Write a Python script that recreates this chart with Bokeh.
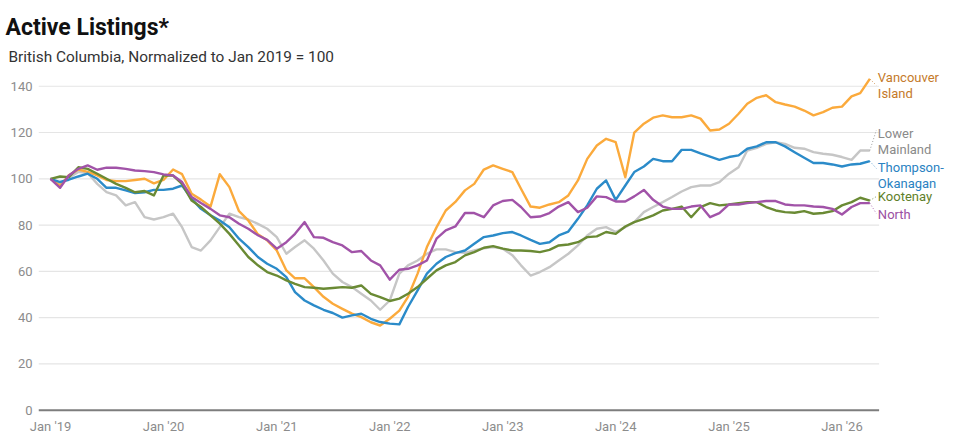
import pandas as pd
from bokeh.plotting import figure
from bokeh.models import FixedTicker, DatetimeTickFormatter, Title, Range1d, ColumnDataSource
from bokeh.core.properties import value
from bokeh.embed import file_html
from bokeh.resources import INLINE

# ---------------- data ----------------
months = pd.date_range("2019-01-01", periods=88, freq="MS")

vancouver_island = [100, 97, 101.5, 104, 103, 101.5, 99.5, 99, 99, 99.5, 100, 98,
                    99.5, 104, 102, 93.5, 91, 88, 102, 96.4, 86, 82, 76, 73.4,
                    69, 60.4, 57, 57, 53.2, 49, 46, 43.8, 41.7, 40.2, 38, 36.6,
                    39.5, 43, 49, 59, 70.5, 79, 86.3, 90, 95, 97.8, 104, 105.8,
                    104.3, 102.9, 95.7, 88, 87.5, 88.9, 89.9, 92.8, 99.3, 108.6, 114.4, 117.3,
                    115.8, 100.7, 120, 123.8, 126.4, 127.4, 126.6, 126.6, 127.4, 126, 120.9, 121.3,
                    123.8, 128.1, 132.4, 135, 136.1, 133.1, 132.1, 131.2, 129.5, 127.4, 128.8, 130.7,
                    131.2, 135.6, 137, 143.2]
lower_mainland = [100, 97.8, 100.5, 103, 102.5, 97.8, 94.2, 92.8, 88.5, 89.9, 83.4, 82.4,
                  83.4, 84.9, 79.1, 70.5, 69, 73.4, 79.1, 84.9, 83.4, 82.4, 80.5, 78.4,
                  74.8, 67.6, 70.5, 73.4, 69.8, 64.7, 59, 55.4, 53.2, 50.3, 47.4, 43.4,
                  47.4, 59, 62.6, 64.7, 67.6, 69.5, 69.5, 68.3, 68, 69, 70, 70.5,
                  69.8, 67, 62.6, 58.2, 59.7, 61.8, 64.7, 67.6, 71.2, 75.5, 78.4, 79.1,
                  77, 79.1, 81.3, 85.6, 87.8, 89.9, 92.1, 94.5, 96.4, 97.1, 97.1, 98.6,
                  102.2, 105, 112.2, 113.4, 115.1, 115.8, 115.1, 113.4, 113, 111.5, 110.8, 110.4,
                  109.4, 108.2, 112.2, 112.2]
thompson_okanagan = [100, 98.6, 99.6, 101, 102.2, 100, 96.1, 96.1, 95, 93.8, 94.2, 95.2,
                     95.2, 95.7, 97.1, 91.4, 87, 84.2, 82, 79.1, 74.1, 70.5, 66.2, 63.3,
                     61.1, 57.5, 51, 47.4, 45.3, 43.4, 42, 40, 41, 41.7, 39.5, 38.1,
                     37.4, 37.1, 44.6, 51.8, 59, 63.3, 66.2, 67.9, 69, 71.9, 74.8, 75.5,
                     76.5, 77, 75.5, 73.6, 71.9, 72.6, 75.5, 77.2, 82.7, 88.5, 95.7, 99.3,
                     90.9, 97.1, 102.9, 105.3, 108.6, 107.6, 107.6, 112.5, 112.5, 111, 109.6, 108.2,
                     109.4, 110.1, 113, 114, 115.8, 115.8, 114, 111.5, 109.1, 106.8, 106.8, 106.2,
                     105.3, 106.2, 106.5, 107.6]
kootenay = [100, 101, 100.7, 105, 104.3, 102.2, 100, 97.8, 96.1, 94.2, 94.7, 92.8,
            101.4, 101.4, 97.8, 90.6, 87.8, 84.2, 80.6, 76.2, 71.2, 66.2, 62.6, 59.7,
            58.2, 56.1, 54.6, 53.2, 52.9, 52.5, 52.8, 53.2, 52.9, 53.9, 50.3, 48.9,
            47.2, 48.2, 50.3, 53.2, 56.8, 60.4, 62.6, 64, 66.9, 68.3, 70.2, 70.9,
            69.8, 69, 69, 68.8, 68.3, 69.3, 71.2, 71.6, 72.6, 74.8, 75.1, 77,
            76.2, 79.4, 81.3, 82.7, 84.2, 86.3, 87, 88, 83.4, 87.8, 89.5, 88.5,
            88.9, 89.5, 89.9, 89.9, 87.8, 86.3, 85.6, 85.3, 86, 84.9, 85.2, 86,
            88.5, 89.9, 91.8, 90.6]
north = [100, 96.1, 101.4, 104.3, 105.8, 103.9, 104.8, 104.8, 104.3, 103.6, 103.3, 102.9,
         101.9, 101.4, 98.6, 92.1, 89.5, 87, 84.2, 83.4, 80.6, 78.4, 75.6, 73.6,
         69.8, 72.6, 76.2, 81.3, 74.8, 74.5, 72.6, 71.2, 68.3, 68.8, 64.7, 62.6,
         56.4, 60.7, 61.1, 62.6, 64.7, 74.1, 77.7, 79.4, 85.2, 85.2, 83.4, 88.5,
         90.4, 90.9, 87.8, 83.4, 83.7, 85.2, 88, 89.9, 85.6, 87.5, 92.4, 92.1,
         90.2, 90.2, 92.4, 95.2, 90.9, 88, 87, 87, 88, 88.5, 83.4, 85.2,
         88.9, 88.9, 89.5, 89.9, 90.4, 90.4, 88.9, 88.5, 88.5, 88, 87.8, 87,
         84.6, 87.8, 89.5, 89.5]

series_names = ["Vancouver\nIsland", "Lower\nMainland", "Thompson-\nOkanagan", "Kootenay", "North"]
series_values = [vancouver_island, lower_mainland, thompson_okanagan, kootenay, north]
line_colors = ["#fbaa3c", "#c6c6c6", "#2b8bc9", "#6a8a34", "#a153a8"]
label_colors = ["#c57a2a", "#8a8a8a", "#2a82c2", "#5f7f2a", "#9b4fa2"]
label_y = [140.4, 116.2, 101.5, 92.3, 84.4]
connector_y = [140.4, 121, 104.5, 92.3, 85]

y_ticks = [0, 20, 40, 60, 80, 100, 120, 140]
x_tick_years = list(range(2019, 2027))

# ---------------- figure ----------------
x_start = pd.Timestamp("2019-01-01") - pd.Timedelta(days=38.8)
x_end = x_start + pd.Timedelta(days=2982)
grid_end = pd.Timestamp("2026-05-01")
label_x = pd.Timestamp("2026-04-27")
conn_x = pd.Timestamp("2026-04-22")

p = figure(width=961, height=444, output_backend="svg", toolbar_location=None,
           x_axis_type="datetime", title=None,
           x_range=Range1d(x_start, x_end), y_range=Range1d(-1, 146.8),
           min_border_left=38, min_border_right=0, min_border_top=70, min_border_bottom=32)
p.outline_line_color = None
p.xgrid.visible = False
p.ygrid.visible = False
p.background_fill_color = "white"
p.border_fill_color = "white"

# gridlines
grid_vals = [t for t in y_ticks if t != 0]
p.segment(x0=[x_start] * len(grid_vals), x1=[grid_end] * len(grid_vals),
          y0=grid_vals, y1=grid_vals, line_color="#e5e5e5", line_width=1.2)
p.segment(x0=[x_start], x1=[grid_end], y0=[0], y1=[0], line_color="#7d7d7d", line_width=2)

# lines (draw gray first)
order = [1, 0, 2, 3, 4]
for k in order:
    p.line(months, series_values[k], line_color=line_colors[k], line_width=2.4,
           line_join="round")

# connectors
for k in range(5):
    p.segment(x0=[months[-1]], y0=[series_values[k][-1]], x1=[conn_x], y1=[connector_y[k]],
              line_color=label_colors[k], line_width=1, line_dash="1 2", line_alpha=0.8)

# labels
src = ColumnDataSource(dict(x=[label_x] * 5, y=label_y, t=series_names, c=label_colors))
p.text(x="x", y="y", text="t", text_color="c", source=src, text_font=value("Roboto"),
       text_font_size="13px", text_baseline="middle", text_align="left", text_line_height=1.05)

# axes
for ax in (p.xaxis, p.yaxis):
    ax.axis_line_color = None
    ax.major_tick_line_color = None
    ax.minor_tick_line_color = None
    ax.major_tick_out = 0
    ax.major_tick_in = 0
    ax.minor_tick_out = 0
    ax.minor_tick_in = 0
    ax.axis_label = None
    ax.major_label_text_font = "Roboto"
    ax.major_label_text_font_size = "13px"
    ax.major_label_text_color = "#8c8c8c"

p.yaxis.ticker = FixedTicker(ticks=y_ticks)
p.yaxis.major_label_standoff = 6

p.xaxis.ticker = FixedTicker(ticks=[pd.Timestamp(f"{y}-01-01").value // 10**6 for y in x_tick_years])
p.xaxis.formatter = DatetimeTickFormatter(years="%b '%y", months="%b '%y", days="%b '%y")
p.xaxis.major_label_standoff = 6

# titles
p.add_layout(Title(text="British Columbia, Normalized to Jan 2019 = 100", text_font="Roboto",
                   text_font_size="15.4px", text_font_style="normal", text_color="#333333",
                   align="left", offset=-30, standoff=10), "above")
p.add_layout(Title(text="Active Listings*", text_font="Roboto", text_font_size="23px",
                   text_font_style="bold", text_color="#111111", align="left", offset=-33,
                   standoff=0, text_line_height=0.85), "above")

open("out.html", "w").write(file_html(p, INLINE))
